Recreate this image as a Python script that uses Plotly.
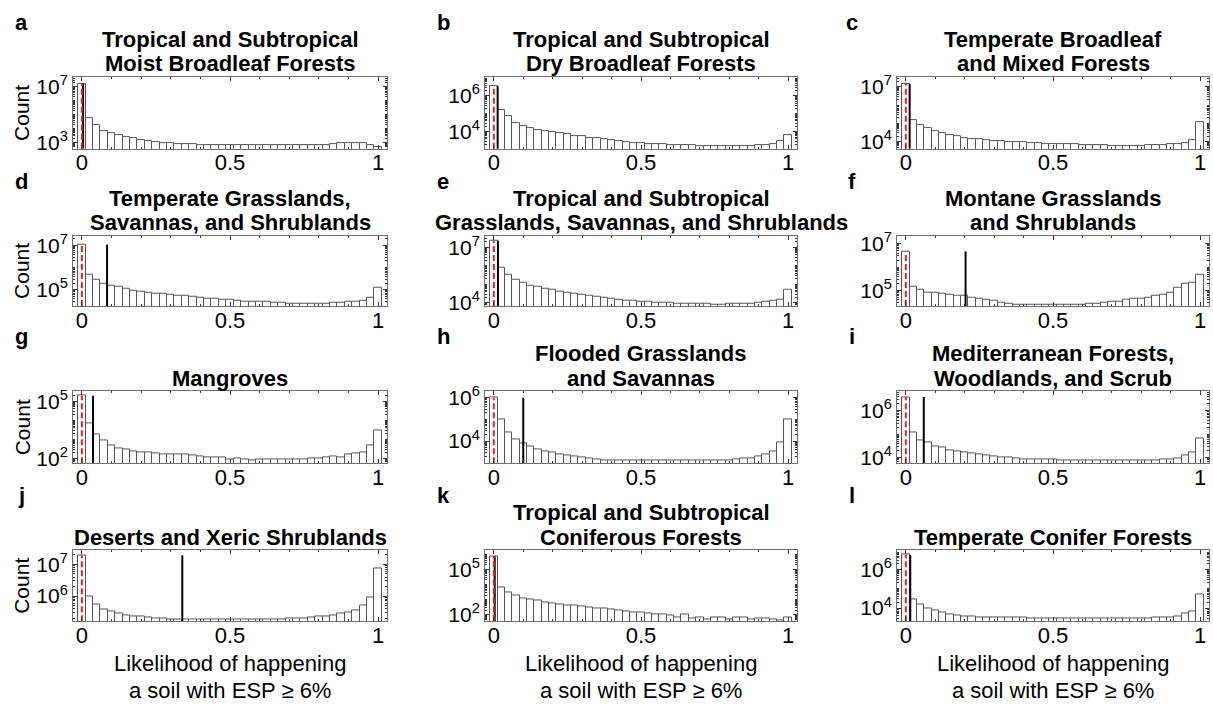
import math
import plotly.graph_objects as go

# Histogram bins: 41 bins of width 0.025 centred on 0, 0.025, ..., 1
bin_width = 0.025
bin_centers = [round(i * bin_width, 3) for i in range(41)]

panel_letters = ["a", "b", "c", "d", "e", "f", "g", "h", "i", "j", "k", "l"]
panel_titles = [
    ["Tropical and Subtropical", "Moist Broadleaf Forests"],
    ["Tropical and Subtropical", "Dry Broadleaf Forests"],
    ["Temperate Broadleaf", "and Mixed Forests"],
    ["Temperate Grasslands,", "Savannas, and Shrublands"],
    ["Tropical and Subtropical", "Grasslands, Savannas, and Shrublands"],
    ["Montane Grasslands", "and Shrublands"],
    ["Mangroves"],
    ["Flooded Grasslands", "and Savannas"],
    ["Mediterranean Forests,", "Woodlands, and Scrub"],
    ["Deserts and Xeric Shrublands"],
    ["Tropical and Subtropical", "Coniferous Forests"],
    ["Temperate Conifer Forests"],
]

# Pixel counts per likelihood bin, one list per biome
counts_a = [1.7e7, 6.0e4, 1.7e4, 6.9e3, 4.5e3, 3.5e3, 2.6e3, 2.0e3, 1.6e3, 1.3e3, 1.1e3,
            1.0e3, 890, 790, 760, 740, 720, 710, 690, 680, 680, 660, 660, 650, 650, 660,
            630, 630, 620, 630, 630, 630, 650, 680, 760, 850, 910, 930, 870, 720, 460]
counts_b = [3.5e6, 1.7e5, 7.4e4, 3.2e4, 2.1e4, 1.5e4, 1.2e4, 1.1e4, 9.5e3, 8.5e3, 7.4e3,
            6.0e3, 5.4e3, 4.7e3, 4.4e3, 3.8e3, 3.4e3, 3.0e3, 2.6e3, 2.4e3, 2.2e3, 2.1e3,
            2.0e3, 2.0e3, 1.9e3, 1.8e3, 1.7e3, 1.7e3, 1.6e3, 1.5e3, 1.5e3, 1.5e3, 1.5e3,
            1.5e3, 1.5e3, 1.6e3, 1.7e3, 1.9e3, 2.1e3, 3.1e3, 6.6e3]
counts_c = [1.5e7, 1.6e5, 8.5e4, 5.6e4, 3.7e4, 2.8e4, 2.3e4, 1.9e4, 1.6e4, 1.4e4, 1.3e4,
            1.2e4, 1.1e4, 1.05e4, 1.0e4, 9.1e3, 8.9e3, 8.5e3, 8.1e3, 7.8e3, 7.4e3, 7.1e3,
            6.9e3, 6.9e3, 6.8e3, 6.8e3, 6.3e3, 6.2e3, 6.0e3, 6.0e3, 5.9e3, 5.9e3, 6.0e3,
            6.2e3, 6.3e3, 6.6e3, 6.9e3, 7.4e3, 8.5e3, 1.2e4, 1.2e5]
counts_d = [1.1e7, 5.0e5, 2.8e5, 1.8e5, 1.5e5, 1.3e5, 1.1e5, 9.3e4, 8.5e4, 7.6e4, 6.9e4,
            6.5e4, 6.0e4, 5.5e4, 5.1e4, 4.8e4, 4.4e4, 4.1e4, 3.9e4, 3.6e4, 3.4e4, 3.2e4,
            3.0e4, 3.0e4, 2.8e4, 2.8e4, 2.6e4, 2.5e4, 2.4e4, 2.3e4, 2.3e4, 2.3e4, 2.3e4,
            2.4e4, 2.5e4, 2.6e4, 2.8e4, 2.8e4, 3.2e4, 4.3e4, 1.2e5]
counts_e = [2.3e7, 7.8e5, 3.2e5, 1.7e5, 1.3e5, 8.7e4, 7.1e4, 5.8e4, 5.1e4, 4.2e4, 3.7e4,
            3.2e4, 2.8e4, 2.5e4, 2.1e4, 1.9e4, 1.7e4, 1.5e4, 1.4e4, 1.3e4, 1.2e4, 1.1e4,
            1.05e4, 1.0e4, 9.8e3, 9.5e3, 9.3e3, 8.9e3, 8.7e3, 8.7e3, 8.5e3, 8.5e3, 8.7e3,
            8.7e3, 9.1e3, 9.5e3, 1.0e4, 1.1e4, 1.3e4, 1.5e4, 5.5e4]
counts_f = [4.6e6, 1.4e5, 1.1e5, 8.5e4, 7.8e4, 7.1e4, 6.8e4, 6.2e4, 5.8e4, 5.2e4, 4.7e4,
            4.1e4, 3.6e4, 3.1e4, 2.7e4, 2.6e4, 2.5e4, 2.4e4, 2.4e4, 2.4e4, 2.4e4, 2.4e4,
            2.5e4, 2.5e4, 2.6e4, 2.7e4, 2.9e4, 3.1e4, 3.3e4, 3.5e4, 3.9e4, 4.3e4, 4.6e4,
            5.2e4, 5.8e4, 6.6e4, 7.8e4, 1.3e5, 2.0e5, 2.2e5, 4.6e5]
counts_g = [1.9e5, 6.9e3, 1.9e3, 910, 480, 360, 300, 250, 220, 200, 190, 170, 170, 170,
            160, 150, 130, 120, 110, 110, 89, 100, 93, 76, 95, 95, 95, 93, 89, 95, 95, 100,
            105, 110, 130, 120, 160, 190, 220, 480, 2.9e3]
counts_h = [1.0e6, 9.5e4, 2.6e4, 1.2e4, 7.9e3, 5.4e3, 4.2e3, 3.5e3, 3.0e3, 2.5e3, 2.1e3,
            1.9e3, 1.7e3, 1.5e3, 1.4e3, 1.3e3, 1.3e3, 1.26e3, 1.23e3, 1.23e3, 1.23e3,
            1.23e3, 1.23e3, 1.23e3, 1.23e3, 1.23e3, 1.23e3, 1.23e3, 1.23e3, 1.23e3, 1.23e3,
            1.23e3, 1.26e3, 1.4e3, 1.5e3, 1.6e3, 1.9e3, 2.5e3, 3.2e3, 8.3e3, 9.5e4]
counts_i = [3.9e6, 1.2e5, 5.5e4, 4.3e4, 3.1e4, 2.6e4, 2.1e4, 1.9e4, 1.6e4, 1.5e4, 1.35e4,
            1.2e4, 1.1e4, 1.0e4, 9.8e3, 9.1e3, 8.7e3, 8.5e3, 8.5e3, 8.3e3, 8.3e3, 7.8e3,
            7.8e3, 7.8e3, 7.8e3, 7.8e3, 7.8e3, 7.8e3, 7.8e3, 7.8e3, 7.8e3, 7.8e3, 7.8e3,
            7.8e3, 7.9e3, 8.3e3, 8.5e3, 9.1e3, 1.2e4, 1.6e4, 6.3e4]
counts_j = [1.95e7, 1.0e6, 5.5e5, 3.9e5, 3.2e5, 2.8e5, 2.5e5, 2.3e5, 2.2e5, 2.1e5, 2.0e5,
            1.9e5, 1.86e5, 1.82e5, 1.82e5, 1.82e5, 1.82e5, 1.82e5, 1.82e5, 1.82e5, 1.82e5,
            1.82e5, 1.82e5, 1.82e5, 1.82e5, 1.82e5, 1.82e5, 1.82e5, 1.9e5, 2.0e5, 2.0e5,
            2.1e5, 2.2e5, 2.3e5, 2.5e5, 2.8e5, 3.1e5, 3.6e5, 5.2e5, 9.3e5, 7.6e6]
counts_k = [7.2e5, 6.6e3, 2.9e3, 1.9e3, 1.2e3, 980, 830, 660, 560, 490, 440, 400, 350, 320,
            280, 250, 220, 190, 170, 155, 140, 130, 115, 105, 91, 71, 105, 55, 71, 48, 66,
            63, 48, 66, 66, 50, 58, 58, 50, 46, 63]
counts_l = [5.9e6, 2.9e4, 1.5e4, 1.0e4, 7.6e3, 6.2e3, 4.9e3, 4.2e3, 3.6e3, 3.5e3, 3.4e3,
            3.4e3, 3.3e3, 3.2e3, 3.2e3, 3.1e3, 3.1e3, 3.0e3, 2.9e3, 2.8e3, 2.75e3, 2.75e3,
            2.75e3, 2.75e3, 2.75e3, 2.75e3, 2.75e3, 2.75e3, 2.75e3, 2.75e3, 2.75e3, 2.8e3,
            2.9e3, 3.0e3, 3.1e3, 3.3e3, 3.4e3, 3.8e3, 5.0e3, 6.9e3, 4.8e4]

all_counts = [counts_a, counts_b, counts_c, counts_d, counts_e, counts_f,
              counts_g, counts_h, counts_i, counts_j, counts_k, counts_l]

# Mean (solid black) and median (dashed red) likelihood per biome
mean_likelihood = [0.004, 0.013, 0.013, 0.085, 0.014, 0.203,
                   0.0375, 0.1, 0.061, 0.339, 0.003, 0.015]
median_likelihood = [0.0, 0.0, 0.0, 0.0, 0.0, 0.0, 0.0, 0.0, 0.0, 0.0, 0.0, 0.0]

# Labelled decades on each y axis
y_tick_exponents = [[3, 7], [4, 6], [4, 7], [5, 7], [4, 7], [5, 7],
                    [2, 5], [4, 6], [4, 6], [6, 7], [2, 5], [4, 6]]

# ---- layout / styling ----
W, H = 1213, 708
col_px = [(73, 387), (485, 797), (897, 1209)]
row_px = [(70.7, 144), (233, 305), (392.3, 465.7), (555, 627.3)]
y_log_range = [[2.56, 7.70], [3.05, 7.05], [3.61, 7.54], [4.26, 7.44], [3.83, 7.63],
               [4.34, 7.34], [1.76, 5.51], [2.98, 6.29], [3.76, 6.83], [5.21, 7.44],
               [1.59, 6.24], [3.32, 6.99]]
x_range = [-0.03, 1.03]
letter_x_px = [21, 443, 852]

FONT = "Liberation Sans, Arial, sans-serif"
BOX = "#6f6f6f"
TICK = "#333333"


def px_x(p):
    return p / W


def px_y(p):
    return 1 - p / H


fig = go.Figure()
annotations = []

for idx in range(12):
    r, c = divmod(idx, 3)
    n = idx + 1
    xa = "x" if n == 1 else f"x{n}"
    ya = "y" if n == 1 else f"y{n}"
    counts = all_counts[idx]
    lo, hi = y_log_range[idx]

    fig.add_trace(go.Bar(
        x=bin_centers, y=counts, width=bin_width,
        marker=dict(color="white", line=dict(color="#555555", width=1)),
        xaxis=xa, yaxis=ya, showlegend=False, hoverinfo="x+y",
    ))
    peak = max(counts)
    fig.add_trace(go.Scatter(
        x=[mean_likelihood[idx]] * 2, y=[10 ** lo, peak], mode="lines",
        line=dict(color="black", width=2), xaxis=xa, yaxis=ya, showlegend=False,
    ))
    fig.add_trace(go.Scatter(
        x=[median_likelihood[idx]] * 2, y=[10 ** lo, peak], mode="lines",
        line=dict(color="#ff1a1a", width=2, dash="6px,3px"), xaxis=xa, yaxis=ya,
        showlegend=False,
    ))

    x0, x1 = col_px[c]
    y0, y1 = row_px[r]
    bottom_row = r == 3

    minor_y = [m * 10 ** d for d in range(0, 9) for m in range(1, 10)
               if lo <= d + math.log10(m) <= hi]

    fig.update_layout({
        ("xaxis" if n == 1 else f"xaxis{n}"): dict(
            domain=[px_x(x0), px_x(x1)], anchor=ya, range=x_range,
            tickvals=[0, 0.5, 1], ticktext=["0", "0.5", "1"],
            ticks="inside", ticklen=4, tickcolor=TICK, tickwidth=1,
            ticklabelstandoff=-6,
            minor=dict(dtick=0.1, tick0=0, ticks="inside", ticklen=2, tickcolor=TICK),
            showline=True, linecolor=BOX, linewidth=1, mirror="ticks",
            showgrid=False, zeroline=False,
            tickfont=dict(family=FONT, size=22, color="black"),
        ),
        ("yaxis" if n == 1 else f"yaxis{n}"): dict(
            domain=[px_y(y1), px_y(y0)], anchor=xa, type="log", range=[lo, hi],
            tickvals=[10 ** e for e in y_tick_exponents[idx]],
            ticktext=[f"10<sup>{e}</sup>" for e in y_tick_exponents[idx]],
            ticks="inside", ticklen=4, tickcolor=TICK, tickwidth=1,
            minor=dict(tickmode="array", tickvals=minor_y,
                       ticks="inside", ticklen=2, tickcolor=TICK),
            showline=True, linecolor=BOX, linewidth=1, mirror="ticks",
            showgrid=False, zeroline=False,
            tickfont=dict(family=FONT, size=21, color="black"),
        ),
    })

    # panel title (one annotation per line)
    cx = px_x((x0 + x1) / 2)
    lines = panel_titles[idx]
    line_offsets = [38.5, 13.5] if len(lines) == 2 else [13.5]
    for text, off in zip(lines, line_offsets):
        annotations.append(dict(
            x=cx, y=px_y(y0 - off), xref="paper", yref="paper", text=f"<b>{text}</b>",
            showarrow=False, xanchor="center", yanchor="middle",
            font=dict(family=FONT, size=22, color="black"),
        ))

    # panel letter
    annotations.append(dict(
        x=px_x(letter_x_px[c]), y=px_y(y0 - 56), xref="paper", yref="paper",
        text=f"<b>{panel_letters[idx]}</b>", showarrow=False,
        xanchor="center", yanchor="middle",
        font=dict(family=FONT, size=22, color="black"),
    ))

    if c == 0:
        annotations.append(dict(
            x=px_x(22), y=px_y((y0 + y1) / 2), xref="paper", yref="paper",
            text="Count", textangle=-90, showarrow=False,
            xanchor="center", yanchor="middle",
            font=dict(family=FONT, size=21, color="black"),
        ))

    if bottom_row:
        for text, ypx in [("Likelihood of happening", 671), ("a soil with ESP ≥ 6%", 698)]:
            annotations.append(dict(
                x=cx, y=px_y(ypx), xref="paper", yref="paper", text=text,
                showarrow=False, xanchor="center", yanchor="middle",
                font=dict(family=FONT, size=22, color="black"),
            ))

fig.update_layout(
    width=W, height=H, margin=dict(l=0, r=0, t=0, b=0),
    paper_bgcolor="white", plot_bgcolor="white",
    bargap=0, annotations=annotations, showlegend=False,
    font=dict(family=FONT, color="black"),
)

fig.write_html("out.html")
